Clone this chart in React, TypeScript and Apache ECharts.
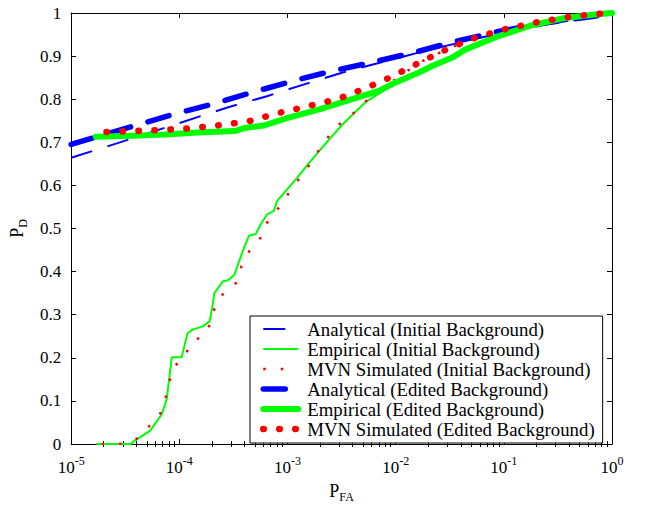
import React, { useEffect, useRef } from 'react';
import * as echarts from 'echarts';

const FONT = 'Liberation Serif';

// x values are P_FA (log axis), y values are P_D
const analyticalInitial: [number, number][] = [
  [1e-5, 0.664], [2.6e-5, 0.697], [2.88e-4, 0.782], [6.46e-4, 0.807], [1.45e-3, 0.835],
  [3.24e-3, 0.862], [7.24e-3, 0.885], [1.62e-2, 0.908], [4.0e-2, 0.932], [0.1, 0.955],
  [0.3, 0.977], [1, 1],
];

const empiricalInitial: [number, number][] = [
  [1.72e-5, 0], [3.53e-5, 0], [3.79e-5, 0.006], [5.38e-5, 0.031], [6.89e-5, 0.069],
  [7.66e-5, 0.105], [8.51e-5, 0.201], [1.05e-4, 0.201], [1.19e-4, 0.257], [1.34e-4, 0.266],
  [1.65e-4, 0.273], [1.91e-4, 0.285], [2.0e-4, 0.312], [2.11e-4, 0.35], [2.52e-4, 0.377],
  [2.8e-4, 0.38], [3.22e-4, 0.392], [3.98e-4, 0.457], [4.42e-4, 0.484], [5.09e-4, 0.487],
  [5.65e-4, 0.51], [6.5e-4, 0.533], [7.48e-4, 0.541], [8.02e-4, 0.564], [9.88e-4, 0.59],
  [1.22e-3, 0.617], [1.62e-3, 0.655], [2.47e-3, 0.709], [3.27e-3, 0.743], [5.3e-3, 0.794],
  [8.77e-3, 0.828], [1.0e-2, 0.838], [1.64e-2, 0.862], [2.17e-2, 0.877], [3.3e-2, 0.896],
  [4.38e-2, 0.915], [8.83e-2, 0.946], [0.178, 0.971], [0.359, 0.988], [0.724, 0.997], [1, 1],
];

const mvnInitial: [number, number][] = [
  [1.91e-5, 0], [2.77e-5, 0], [3.87e-5, 0.008], [5.02e-5, 0.036], [6.55e-5, 0.065],
  [7.38e-5, 0.101], [8.04e-5, 0.142], [8.79e-5, 0.179], [1.11e-4, 0.199], [1.27e-4, 0.235],
  [1.74e-4, 0.254], [2.0e-4, 0.288], [2.16e-4, 0.324], [2.65e-4, 0.355], [3.45e-4, 0.376],
  [3.76e-4, 0.414], [4.42e-4, 0.447], [5.5e-4, 0.472], [6.22e-4, 0.508], [7.69e-4, 0.537],
  [9.23e-4, 0.564], [1.11e-3, 0.596], [1.35e-3, 0.622], [1.64e-3, 0.652], [1.97e-3, 0.683],
  [2.42e-3, 0.715], [3.08e-3, 0.744], [4.09e-3, 0.768], [5.23e-3, 0.794], [6.97e-3, 0.816],
  [9.2e-3, 0.84], [1.66e-2, 0.885], [3.04e-2, 0.917], [5.62e-2, 0.944], [0.105, 0.963],
  [0.199, 0.978], [0.378, 0.99], [0.724, 0.998], [1, 1],
];

const analyticalEdited: [number, number][] = [
  [1e-5, 0.695], [9.1e-5, 0.766], [2.19e-4, 0.791], [4.9e-4, 0.817], [1.15e-3, 0.843],
  [2.63e-3, 0.866], [6.17e-3, 0.886], [1.51e-2, 0.909], [3.31e-2, 0.932], [8.9e-2, 0.957],
  [0.27, 0.979], [0.63, 0.991], [1, 1],
];

const empiricalEdited: [number, number][] = [
  [1.69e-5, 0.713], [3.66e-5, 0.715], [7.38e-5, 0.718], [1.49e-4, 0.723], [3.22e-4, 0.726],
  [3.98e-4, 0.733], [6.05e-4, 0.739], [9.88e-4, 0.756], [2.0e-3, 0.777], [4.03e-3, 0.801],
  [7.06e-3, 0.82], [1.0e-2, 0.839], [1.64e-2, 0.862], [2.17e-2, 0.877], [3.3e-2, 0.896],
  [4.38e-2, 0.915], [8.83e-2, 0.946], [0.178, 0.971], [0.359, 0.988], [0.724, 0.997], [1, 1],
];

const mvnEdited: [number, number][] = [
  [2.12e-5, 0.724], [5.98e-5, 0.728], [1.17e-4, 0.732], [2.25e-4, 0.739], [4.42e-4, 0.749],
  [8.32e-4, 0.768], [1.56e-3, 0.784], [2.88e-3, 0.8], [5.22e-3, 0.825], [9.35e-3, 0.853],
  [1.66e-2, 0.885], [3.04e-2, 0.917], [5.62e-2, 0.944], [0.105, 0.963], [0.199, 0.978],
  [0.378, 0.99], [0.724, 0.998], [1, 1],
];

const seriesNames = [
  'Analytical (Initial Background)',
  'Empirical (Initial Background)',
  'MVN Simulated (Initial Background)',
  'Analytical (Edited Background)',
  'Empirical (Edited Background)',
  'MVN Simulated (Edited Background)',
];

const xDecadeExponents = [-5, -4, -3, -2, -1, 0];
const minorMultipliers = [2, 3, 4, 5, 6, 7, 8, 9];
const minorTickValues: number[] = [];
xDecadeExponents.slice(0, -1).forEach((e) => {
  minorMultipliers.forEach((m) => minorTickValues.push(m * Math.pow(10, e)));
});
const majorTickValues = xDecadeExponents.map((e) => Math.pow(10, e));

const BLUE = '#0000ff';
const GREEN = '#00ff00';
const RED = '#ff0000';

export default function App() {
  const ref = useRef<HTMLDivElement>(null);

  useEffect(() => {
    if (!ref.current) return;
    const chart = echarts.init(ref.current, undefined, { renderer: 'svg' });

    const xBase = {
      type: 'log' as const,
      logBase: 10,
      min: 1e-5,
      max: 1,
      gridIndex: 0,
      splitLine: { show: false },
      minorTick: { show: false },
    };

    const option: any = {
      animation: false,
      backgroundColor: '#fff',
      textStyle: { fontFamily: FONT },
      grid: { left: 65, top: 13, right: 40, bottom: 59, containLabel: false },
      xAxis: [
        {
          ...xBase,
          position: 'bottom',
          axisLine: { show: true, onZero: false, lineStyle: { color: '#000', width: 1 } },
          axisTick: { show: true, inside: true, length: 5, lineStyle: { color: '#000' }, customValues: majorTickValues },
          axisLabel: {
            show: true,
            margin: 11,
            fontFamily: FONT,
            customValues: majorTickValues,
            formatter: (v: number) => `{b|10}{s|${Math.round(Math.log10(v))}}`,
            rich: {
              b: { fontFamily: FONT, fontSize: 17, color: '#000', lineHeight: 25, verticalAlign: 'middle' },
              s: { fontFamily: FONT, fontSize: 12, color: '#000', lineHeight: 5, verticalAlign: 'top' },
            },
          },
          name: '{p|P}{s|FA}',
          nameLocation: 'middle',
          nameGap: 35,
          nameTextStyle: {
            fontFamily: FONT,
            rich: {
              p: { fontFamily: FONT, fontSize: 18, color: '#000', lineHeight: 24, verticalAlign: 'middle' },
              s: { fontFamily: FONT, fontSize: 12, color: '#000', lineHeight: 8, verticalAlign: 'bottom' },
            },
          },
        },
        {
          ...xBase,
          position: 'bottom',
          axisLine: { show: false },
          axisTick: { show: true, inside: true, length: 3, lineStyle: { color: '#000' }, customValues: minorTickValues },
          axisLabel: { show: false },
        },
        {
          ...xBase,
          position: 'top',
          axisLine: { show: true, onZero: false, lineStyle: { color: '#000', width: 1 } },
          axisTick: { show: true, inside: true, length: 5, lineStyle: { color: '#000' }, customValues: majorTickValues },
          axisLabel: { show: false },
        },
        {
          ...xBase,
          position: 'top',
          axisLine: { show: false },
          axisTick: { show: true, inside: true, length: 3, lineStyle: { color: '#000' }, customValues: minorTickValues },
          axisLabel: { show: false },
        },
      ],
      yAxis: [
        {
          type: 'value',
          min: 0,
          max: 1,
          interval: 0.1,
          position: 'left',
          splitLine: { show: false },
          axisLine: { show: true, onZero: false, lineStyle: { color: '#000', width: 1 } },
          axisTick: { show: true, inside: true, length: 5, lineStyle: { color: '#000' } },
          axisLabel: { fontFamily: FONT, fontSize: 17, color: '#000', margin: 10 },
          name: '{p|P}{s|D}',
          nameLocation: 'middle',
          nameRotate: 90,
          nameGap: 33,
          nameTextStyle: {
            fontFamily: FONT,
            rich: {
              p: { fontFamily: FONT, fontSize: 18, color: '#000', lineHeight: 24, verticalAlign: 'middle' },
              s: { fontFamily: FONT, fontSize: 12, color: '#000', lineHeight: 8, verticalAlign: 'bottom' },
            },
          },
        },
        {
          type: 'value',
          min: 0,
          max: 1,
          interval: 0.1,
          position: 'right',
          splitLine: { show: false },
          axisLine: { show: true, onZero: false, lineStyle: { color: '#000', width: 1 } },
          axisTick: { show: true, inside: true, length: 5, lineStyle: { color: '#000' } },
          axisLabel: { show: false },
        },
      ],
      legend: {
        orient: 'vertical',
        left: 250,
        top: 316,
        itemWidth: 35,
        itemHeight: 16,
        itemGap: 0,
        padding: [3, 8, 4, 10],
        backgroundColor: '#fff',
        borderColor: '#000',
        borderWidth: 1,
        borderRadius: 0,
        selectedMode: false,
        textStyle: { fontFamily: FONT, fontSize: 18.8, color: '#000', lineHeight: 20, padding: [0, 0, 0, 4] },
        lineStyle: { width: 'inherit' },
        itemStyle: { opacity: 0, borderWidth: 0 },
        data: seriesNames,
      },
      series: [
        {
          name: seriesNames[0], type: 'line', data: analyticalInitial, symbol: 'none', color: BLUE,
          lineStyle: { color: BLUE, width: 2, type: [22, 16], cap: 'butt' }, z: 2, silent: true,
        },
        {
          name: seriesNames[1], type: 'line', data: empiricalInitial, symbol: 'none', color: GREEN,
          lineStyle: { color: GREEN, width: 2 }, z: 3, silent: true,
        },
        {
          name: seriesNames[2], type: 'line', data: mvnInitial, symbol: 'none', color: RED,
          lineStyle: { color: RED, width: 2.5, type: [2.5, 15], cap: 'butt' }, z: 4, silent: true,
        },
        {
          name: seriesNames[3], type: 'line', data: analyticalEdited, symbol: 'none', color: BLUE,
          lineStyle: { color: BLUE, width: 5.5, type: [22, 18], cap: 'round' }, z: 5, silent: true,
        },
        {
          name: seriesNames[4], type: 'line', data: empiricalEdited, symbol: 'none', color: GREEN,
          lineStyle: { color: GREEN, width: 6, cap: 'round', join: 'round' }, z: 6, silent: true,
        },
        {
          name: seriesNames[5], type: 'line', data: mvnEdited, symbol: 'none', color: RED,
          lineStyle: { color: RED, width: 6.5, type: [0.5, 15.5], cap: 'round' }, z: 7, silent: true,
        },
      ],
    };

    chart.setOption(option);
    return () => chart.dispose();
  }, []);

  return (
    <div
      ref={ref}
      style={{ position: 'fixed', left: 0, top: 0, width: 652, height: 508, background: '#fff' }}
    />
  );
}
